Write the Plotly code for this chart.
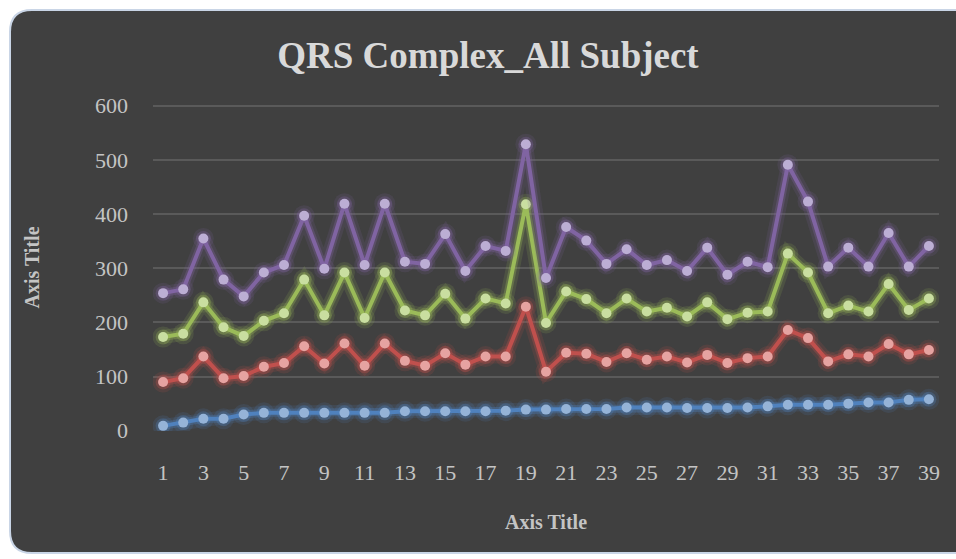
import plotly.graph_objects as go

subjects = list(range(1, 40))
tick_labels = [str(i) for i in range(1, 40, 2)]

serie_azul = [9, 15, 22, 22, 30, 33, 33, 33, 33, 33, 33, 33, 36, 36, 36, 36, 36, 37, 39, 39,
              40, 40, 40, 43, 43, 43, 42, 42, 42, 43, 45, 48, 48, 48, 50, 52, 52, 57, 58]
serie_vermelha = [90, 97, 137, 97, 101, 118, 125, 156, 124, 161, 120, 161, 129, 120, 143, 122, 137, 137, 229, 109,
                  144, 142, 127, 143, 131, 137, 126, 140, 125, 134, 137, 186, 171, 128, 141, 137, 160, 141, 149]
serie_verde = [173, 179, 237, 191, 175, 203, 217, 279, 213, 292, 208, 292, 222, 213, 253, 207, 244, 235, 418, 199,
               257, 243, 217, 244, 220, 227, 211, 237, 206, 218, 220, 327, 292, 217, 231, 220, 271, 223, 244]
serie_roxa = [254, 261, 355, 279, 248, 292, 306, 397, 299, 419, 306, 419, 312, 308, 363, 295, 341, 332, 529, 282,
              376, 351, 308, 335, 306, 315, 295, 338, 288, 312, 302, 491, 423, 303, 338, 303, 365, 303, 341]

series = [
    ("Série 1", serie_azul, "#4f81bd", "#95b3d7", "79,129,189"),
    ("Série 2", serie_vermelha, "#c0504d", "#e6a3a1", "192,80,77"),
    ("Série 3", serie_verde, "#9bbb59", "#c9dea0", "155,187,89"),
    ("Série 4", serie_roxa, "#8064a2", "#bcaed4", "128,100,162"),
]

W, H = 956, 559
L, R, T, B = 153, 17, 104, 128
pw, ph = W - L - R, H - T - B


def px(x):
    return (x - L) / pw


def py(y):
    return (H - B - y) / ph


# cartão arredondado de fundo (o lado direito sai da janela)
x0, x1, y0, y1, r = 10, 990, 10, 553, 22
caminho = (
    f"M {px(x0 + r)},{py(y0)} L {px(x1 - r)},{py(y0)} Q {px(x1)},{py(y0)} {px(x1)},{py(y0 + r)} "
    f"L {px(x1)},{py(y1 - r)} Q {px(x1)},{py(y1)} {px(x1 - r)},{py(y1)} "
    f"L {px(x0 + r)},{py(y1)} Q {px(x0)},{py(y1)} {px(x0)},{py(y1 - r)} "
    f"L {px(x0)},{py(y0 + r)} Q {px(x0)},{py(y0)} {px(x0 + r)},{py(y0)} Z"
)

fig = go.Figure()

for nome, valores, cor, cor_marcador, rgb in series:
    # brilho suave por baixo (duas camadas)
    for largura, tamanho, alfa in [(14, 21, 0.15), (8, 15, 0.3)]:
        fig.add_trace(go.Scatter(
            x=subjects, y=valores, mode="lines+markers", showlegend=False, hoverinfo="skip",
            line=dict(color=f"rgba({rgb},{alfa})", width=largura),
            marker=dict(size=tamanho, color=f"rgba({rgb},{alfa})"),
        ))
    fig.add_trace(go.Scatter(
        x=subjects, y=valores, mode="lines+markers", name=nome, showlegend=False,
        line=dict(color=cor, width=4),
        marker=dict(size=10, color=cor_marcador),
    ))

fig.update_layout(
    width=W, height=H,
    margin=dict(l=L, r=R, t=T, b=B),
    paper_bgcolor="white",
    plot_bgcolor="rgba(0,0,0,0)",
    font=dict(family="Liberation Serif, DejaVu Serif, serif", size=22, color="#c4c4c4"),
    title=dict(text="<b>QRS Complex_All Subject</b>", x=488 / W, xanchor="center",
               y=1 - 55 / H, yanchor="middle", font=dict(size=37, color="#d9d9d9")),
    shapes=[dict(type="path", path=caminho, xref="paper", yref="paper",
                 fillcolor="#404040", line=dict(color="#c9d5e6", width=2), layer="below")],
)

fig.update_xaxes(
    range=[0.5, 39.5], tickmode="array", tickvals=list(range(1, 40, 2)), ticktext=tick_labels,
    showgrid=False, zeroline=False, showline=False, ticks="", ticklabelstandoff=26,
    title=dict(text="<b>Axis Title</b>", font=dict(size=20, color="#c4c4c4"), standoff=30),
)
# folga no topo do range para a linha de grade do 600 aparecer
fig.update_yaxes(
    range=[-0.5, 603.2], tickmode="array", tickvals=list(range(0, 601, 100)),
    showgrid=True, gridcolor="#5a5a5a", gridwidth=2,
    zeroline=False, showline=False, ticks="", ticklabelstandoff=24,
    title=dict(text="<b>Axis Title</b>", font=dict(size=20, color="#c4c4c4"), standoff=50),
)

# sem margem no body, para o gráfico ocupar a janela toda
fig.write_html("out.html", config={"displayModeBar": False},
               post_script="document.body.style.margin = '0';")
